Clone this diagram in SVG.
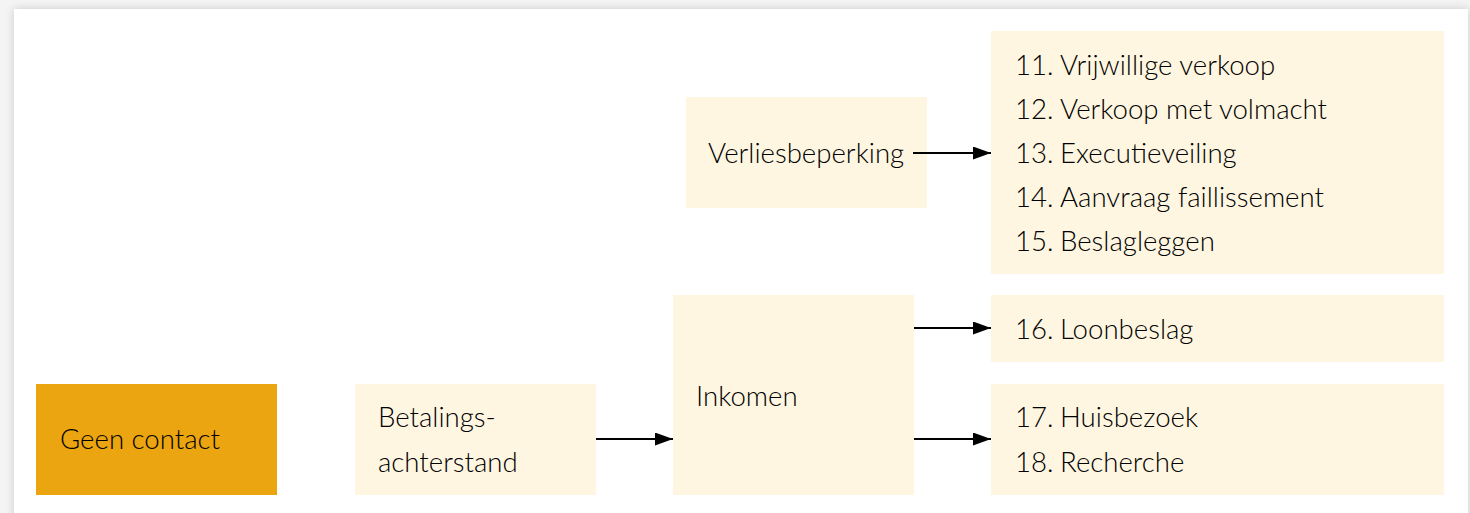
<svg xmlns="http://www.w3.org/2000/svg" width="1470" height="513" viewBox="0 0 1470 513">
<defs>
<filter id="sh" x="-5%" y="-20%" width="110%" height="140%">
<feDropShadow dx="0" dy="0" stdDeviation="4" flood-color="#000" flood-opacity="0.18"/>
</filter>
<marker id="ah" viewBox="0 0 18 13" refX="18" refY="6.5" markerWidth="18" markerHeight="13" markerUnits="userSpaceOnUse" orient="auto">
<path d="M0,0 L18,6.5 L0,13 Z" fill="#000"/>
</marker>
<style>
.box{fill:#FEF6E1}
.org{fill:#EBA511}
.t{font-family:Lato,"Liberation Sans",sans-serif;font-weight:300;font-size:27.6px;fill:#000}
.c{stroke:#000;stroke-width:2.2;fill:none;marker-end:url(#ah)}
</style>
</defs>
<rect width="1470" height="513" fill="#f4f4f4"/>
<rect x="14" y="9" width="1454" height="520" fill="#fff" filter="url(#sh)"/>
<g id="geen-contact">
<rect class="org" x="36" y="384" width="241" height="111"/>
<text class="t" x="60" y="449">Geen contact</text>
</g>
<g id="betalingsachterstand">
<rect class="box" x="355" y="384" width="241" height="111"/>
<text class="t" x="378" y="427">Betalings-</text>
<text class="t" x="378" y="472">achterstand</text>
</g>
<g id="inkomen">
<rect class="box" x="673" y="295" width="241" height="200"/>
<text class="t" x="696" y="406">Inkomen</text>
</g>
<g id="verliesbeperking">
<rect class="box" x="686" y="97" width="241" height="111"/>
<text class="t" x="708" y="163">Verliesbeperking</text>
</g>
<g id="maatregelen-11-15">
<rect class="box" x="991" y="31" width="453" height="243"/>
<text class="t" x="1015" y="75">11.</text><text class="t" x="1060" y="75">Vrijwillige verkoop</text>
<text class="t" x="1015" y="119">12.</text><text class="t" x="1060" y="119">Verkoop met volmacht</text>
<text class="t" x="1015" y="163">13.</text><text class="t" x="1060" y="163">Executieveiling</text>
<text class="t" x="1015" y="207">14.</text><text class="t" x="1060" y="207">Aanvraag faillissement</text>
<text class="t" x="1015" y="251">15.</text><text class="t" x="1060" y="251">Beslagleggen</text>
</g>
<g id="loonbeslag">
<rect class="box" x="991" y="295" width="453" height="67"/>
<text class="t" x="1015" y="339">16.</text><text class="t" x="1060" y="339">Loonbeslag</text>
</g>
<g id="huisbezoek-recherche">
<rect class="box" x="991" y="384" width="453" height="111"/>
<text class="t" x="1015" y="427">17.</text><text class="t" x="1060" y="427">Huisbezoek</text>
<text class="t" x="1015" y="472">18.</text><text class="t" x="1060" y="472">Recherche</text>
</g>
<g id="connectors">
<line class="c" x1="596" y1="439" x2="673" y2="439"/>
<line class="c" x1="914" y1="328" x2="991" y2="328"/>
<line class="c" x1="914" y1="439" x2="991" y2="439"/>
<line class="c" x1="913" y1="153" x2="991" y2="153"/>
</g>
</svg>
